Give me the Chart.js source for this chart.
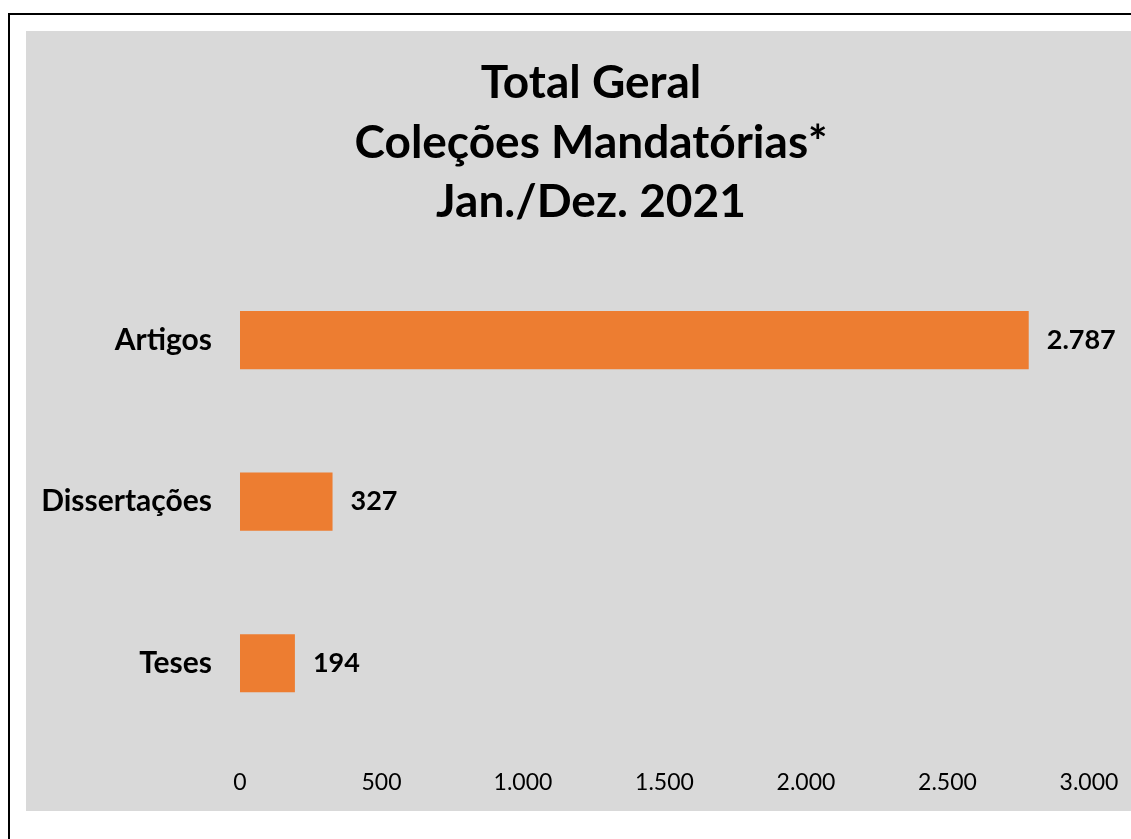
<!DOCTYPE html>
<html lang="pt">
<head>
    <meta charset="UTF-8">
    <title>Total Geral - Coleções Mandatórias</title>
    <script src="https://cdn.jsdelivr.net/npm/chart.js"></script>
    <style>
        html, body {
            margin: 0;
            padding: 0;
            background: #ffffff;
            overflow: hidden;
            width: 1131px;
            height: 839px;
        }
        .frame {
            position: absolute;
            left: 8px;
            top: 13px;
            width: 1200px;
            height: 900px;
            border: 2px solid #000;
        }
        .panel {
            position: absolute;
            left: 26px;
            top: 31px;
            width: 1130px;
            height: 780px;
            background: #d9d9d9;
        }
    </style>
</head>
<body>

<div class="frame"></div>
<div class="panel">
    <canvas id="chart" width="1130" height="780"></canvas>
</div>

<script>
    const categories = ['Artigos', 'Dissertações', 'Teses'];
    const totals = [2787, 327, 194];
    const titleLines = ['Total Geral', 'Coleções Mandatórias*', 'Jan./Dez. 2021'];
    const tickMax = 3000;
    const tickStep = 500;

    const fontFamily = "Lato, 'Open Sans', sans-serif";

    // 1234 -> "1.234"
    function fmt(v) {
        return String(v).replace(/\B(?=(\d{3})+(?!\d))/g, '.');
    }

    // value labels to the right of each bar
    const barLabels = {
        id: 'barLabels',
        afterDatasetsDraw(chart) {
            const ctx = chart.ctx;
            const meta = chart.getDatasetMeta(0);
            ctx.save();
            ctx.font = 'bold 27px ' + fontFamily;
            ctx.fillStyle = '#000';
            ctx.textAlign = 'left';
            ctx.textBaseline = 'middle';
            meta.data.forEach((bar, i) => {
                ctx.fillText(fmt(totals[i]), bar.x + 18, bar.y);
            });
            ctx.restore();
        }
    };

    new Chart(document.getElementById('chart'), {
        type: 'bar',
        data: {
            labels: categories,
            datasets: [{
                data: totals,
                backgroundColor: '#ed7d31',
                borderWidth: 0,
                barPercentage: 0.36,
                categoryPercentage: 1
            }]
        },
        options: {
            indexAxis: 'y',
            responsive: false,
            animation: false,
            plugins: {
                legend: { display: false },
                tooltip: { enabled: false },
                title: {
                    display: true,
                    text: titleLines,
                    color: '#000',
                    font: { family: fontFamily, size: 46, weight: 'bold', lineHeight: 1.3 },
                    padding: { top: 22, bottom: 27 }
                }
            },
            scales: {
                x: {
                    min: 0,
                    max: tickMax,
                    grid: { display: false, drawTicks: false },
                    border: { display: false },
                    ticks: {
                        stepSize: tickStep,
                        padding: 25,
                        color: '#000',
                        font: { family: fontFamily, size: 23 },
                        callback: v => fmt(v)
                    },
                    afterFit(scale) {
                        scale.height = 67;
                        scale.paddingRight = 67; // room right of the 3.000 tick
                    }
                },
                y: {
                    grid: { display: false, drawTicks: false },
                    border: { display: false },
                    ticks: {
                        padding: 28,
                        color: '#000',
                        font: { family: fontFamily, size: 30, weight: 'bold' }
                    },
                    afterFit(scale) { scale.width = 214; }
                }
            }
        },
        plugins: [barLabels]
    });
</script>
</body>
</html>
